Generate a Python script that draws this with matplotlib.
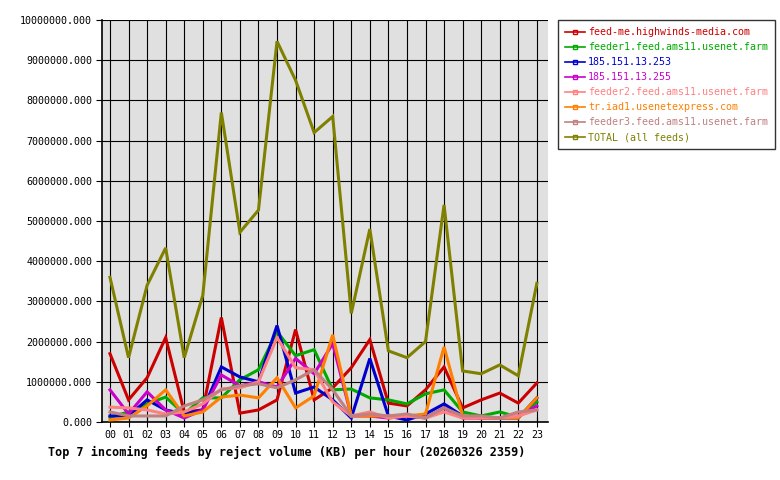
"""
Top 7 incoming feeds by reject volume, hourly line chart
"""
import matplotlib
matplotlib.use("Agg")
import matplotlib.pyplot as plt
from matplotlib.lines import Line2D

hours = ["00", "01", "02", "03", "04", "05", "06", "07", "08", "09", "10", "11",
         "12", "13", "14", "15", "16", "17", "18", "19", "20", "21", "22", "23"]

# values in KB
feedme = [1.70e6, 0.55e6, 1.10e6, 2.10e6, 0.25e6, 0.30e6, 2.60e6, 0.22e6, 0.30e6, 0.55e6, 2.30e6, 0.55e6,
          0.85e6, 1.35e6, 2.05e6, 0.47e6, 0.40e6, 0.80e6, 1.37e6, 0.35e6, 0.55e6, 0.72e6, 0.47e6, 0.97e6]
feeder1 = [0.12e6, 0.25e6, 0.45e6, 0.62e6, 0.20e6, 0.60e6, 0.60e6, 1.05e6, 1.30e6, 2.25e6, 1.65e6, 1.80e6,
           0.80e6, 0.82e6, 0.60e6, 0.55e6, 0.45e6, 0.70e6, 0.80e6, 0.25e6, 0.15e6, 0.25e6, 0.12e6, 0.50e6]
ip253 = [0.15e6, 0.15e6, 0.55e6, 0.30e6, 0.20e6, 0.30e6, 1.37e6, 1.12e6, 1.00e6, 2.40e6, 0.72e6, 0.87e6,
         0.55e6, 0.10e6, 1.58e6, 0.15e6, 0.05e6, 0.20e6, 0.45e6, 0.15e6, 0.10e6, 0.10e6, 0.10e6, 0.60e6]
ip255 = [0.80e6, 0.20e6, 0.75e6, 0.30e6, 0.10e6, 0.30e6, 1.17e6, 0.90e6, 1.00e6, 0.87e6, 1.58e6, 1.20e6,
         1.95e6, 0.15e6, 0.15e6, 0.10e6, 0.15e6, 0.10e6, 0.35e6, 0.10e6, 0.10e6, 0.10e6, 0.15e6, 0.40e6]
feeder2 = [0.37e6, 0.35e6, 0.30e6, 0.20e6, 0.25e6, 0.45e6, 0.82e6, 0.85e6, 1.00e6, 2.10e6, 1.35e6, 1.30e6,
           0.50e6, 0.15e6, 0.25e6, 0.10e6, 0.15e6, 0.10e6, 0.25e6, 0.10e6, 0.10e6, 0.10e6, 0.15e6, 0.30e6]
iad1 = [0.05e6, 0.10e6, 0.40e6, 0.80e6, 0.15e6, 0.25e6, 0.62e6, 0.67e6, 0.60e6, 1.10e6, 0.35e6, 0.65e6,
        2.17e6, 0.15e6, 0.15e6, 0.15e6, 0.15e6, 0.20e6, 1.87e6, 0.15e6, 0.10e6, 0.10e6, 0.10e6, 0.60e6]
feeder3 = [0.25e6, 0.15e6, 0.15e6, 0.15e6, 0.40e6, 0.55e6, 0.80e6, 0.90e6, 0.95e6, 0.85e6, 1.05e6, 1.30e6,
           0.80e6, 0.15e6, 0.20e6, 0.15e6, 0.20e6, 0.10e6, 0.35e6, 0.15e6, 0.15e6, 0.10e6, 0.25e6, 0.30e6]
total = [3.60e6, 1.60e6, 3.40e6, 4.33e6, 1.60e6, 3.15e6, 7.70e6, 4.72e6, 5.27e6, 9.47e6, 8.50e6, 7.20e6,
         7.60e6, 2.70e6, 4.80e6, 1.77e6, 1.60e6, 2.00e6, 5.40e6, 1.27e6, 1.20e6, 1.42e6, 1.15e6, 3.45e6]

labels = ["feed-me.highwinds-media.com", "feeder1.feed.ams11.usenet.farm", "185.151.13.253",
          "185.151.13.255", "feeder2.feed.ams11.usenet.farm", "tr.iad1.usenetexpress.com",
          "feeder3.feed.ams11.usenet.farm", "TOTAL (all feeds)"]
colors = ["#cc0000", "#00aa00", "#0000cc", "#cc00cc", "#ff8080", "#ff8000", "#c08080", "#808000"]
series = [feedme, feeder1, ip253, ip255, feeder2, iad1, feeder3, total]

plt.rcParams["font.family"] = ["DejaVu Sans Mono"]

fig = plt.figure(figsize=(7.8, 4.8), dpi=100)
ax = fig.add_axes([102 / 780, 58 / 480, 446 / 780, 402 / 480])
ax.set_facecolor("#e0e0e0")

x = list(range(len(hours)))
# draw feeds first, total on top like the reference
order = [7, 0, 1, 2, 3, 5, 4, 6]
for i in order:
    ax.plot(x, series[i], color=colors[i], linewidth=2.2, solid_joinstyle="miter", zorder=3)

ax.set_xlim(-0.43, 23.6)
ax.set_ylim(0, 10e6)
ax.set_xticks(x)
ax.set_xticklabels(hours)
yt = [i * 1e6 for i in range(11)]
ax.set_yticks(yt)
ax.set_yticklabels(["%.3f" % v for v in yt])
ax.grid(True, color="black", linewidth=0.8, zorder=1)
ax.set_axisbelow(True)
ax.tick_params(axis="y", direction="out", length=4, width=0.8, labelsize=7.2, pad=3)
ax.tick_params(axis="x", direction="inout", length=7, width=0.8, labelsize=7.2, pad=2)
for s in ["top", "right"]:
    ax.spines[s].set_visible(False)
ax.spines["left"].set_linewidth(1.2)
ax.spines["bottom"].set_linewidth(1.2)

fig.text(48 / 780, 1 - 452 / 480, "Top 7 incoming feeds by reject volume (KB) per hour (20260326 2359)",
         fontsize=8.5, fontweight="bold", va="center", ha="left")

handles = [Line2D([0], [0], color=c, linewidth=1.2, marker="s", markersize=2.5,
                  markerfacecolor="none", markeredgecolor=c) for c in colors]
leg = fig.legend(handles, labels, loc="upper left", bbox_to_anchor=(558 / 780, 1 - 20 / 480),
                 fontsize=7.2, frameon=True, fancybox=False, edgecolor="black", handlelength=2.0,
                 handletextpad=0.3, borderpad=0.7, labelspacing=0.5, borderaxespad=0)
leg.get_frame().set_linewidth(1.0)
for t, c in zip(leg.get_texts(), colors):
    t.set_color(c)

fig.savefig("out.png", dpi=100)
